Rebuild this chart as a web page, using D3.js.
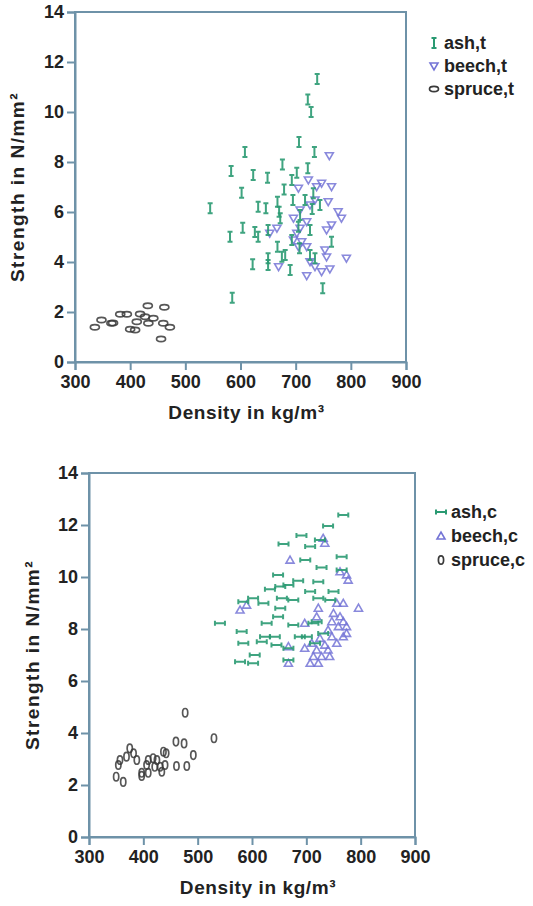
<!DOCTYPE html>
<html><head><meta charset="utf-8">
<script src="https://cdn.jsdelivr.net/npm/d3@7/dist/d3.min.js"></script>
<style>body{margin:0;background:#fff}svg{display:block}text{font-family:"Liberation Sans",Arial,sans-serif;font-weight:bold;fill:#222}</style>
</head><body><svg id="c" width="533" height="906"></svg>
<script>
// ---------- data: tension (top) ----------
const ashT = [[739,11.32],[722,10.5],[728,10.0],[706,8.8],[608,8.4],[734,8.4],[676,7.9],[583,7.64],[623,7.48],[649,7.37],[702,7.57],[722,7.75],[602,6.77],[679,6.9],[693,7.28],[695,6.48],[732,6.75],[545,6.15],[632,6.21],[646,6.15],[667,6.41],[670,6.01],[672,5.75],[730,6.12],[604,5.37],[650,5.28],[632,5.01],[581,5.01],[705,5.41],[765,4.81],[667,4.61],[707,4.55],[675,4.21],[650,4.15],[650,3.88],[622,3.91],[726,4.28],[735,4.15],[690,3.68],[749,2.95],[585,2.57],[708,5.88],[717,6.48],[693,4.88],[726,5.28],[744,6.28],[681,4.28],[626,5.2]];
const beechT = [[761,8.25],[723,7.28],[747,7.15],[765,7.01],[738,7.01],[705,6.95],[759,6.41],[708,6.08],[735,6.48],[777,6.01],[783,5.75],[765,5.48],[756,5.28],[708,5.35],[720,5.61],[702,5.15],[666,5.35],[653,5.15],[696,4.88],[711,4.81],[720,4.61],[705,4.61],[753,4.48],[726,4.01],[792,4.15],[669,3.81],[735,3.81],[747,3.61],[762,3.72],[720,3.45],[756,4.2],[696,5.75],[726,6.28]];
const spruceT = [[432,2.25],[462,2.19],[382,1.91],[394,1.91],[418,1.92],[427,1.81],[348,1.68],[366,1.55],[336,1.39],[412,1.61],[433,1.55],[400,1.31],[460,1.55],[472,1.39],[456,0.92],[409,1.28],[442,1.75],[369,1.56]];
// ---------- data: compression (bottom) ----------
const ashC = [[768,12.38],[740,11.96],[691,11.6],[658,11.27],[707,11.17],[725,11.42],[765,10.78],[698,10.65],[728,10.37],[648,10.08],[765,10.27],[685,9.86],[667,9.69],[652,9.63],[633,9.53],[722,9.82],[707,9.44],[750,9.44],[602,9.18],[621,8.99],[655,9.18],[676,9.12],[722,9.18],[652,8.8],[584,9.05],[648,8.47],[627,8.22],[676,8.15],[541,8.22],[581,7.9],[624,7.7],[642,7.7],[688,7.7],[584,7.45],[618,7.51],[645,7.38],[667,7.26],[605,7.0],[578,6.74],[602,6.68],[667,6.81],[731,7.83],[719,8.28],[744,9.12],[713,8.22],[701,7.7],[716,7.45]];
const beechC = [[731,11.49],[734,11.3],[670,10.65],[762,10.2],[774,10.08],[777,9.88],[578,8.73],[590,8.92],[796,8.8],[768,8.99],[756,8.99],[722,8.8],[719,8.47],[747,8.28],[768,8.28],[759,8.09],[774,8.09],[740,7.96],[697,8.22],[747,7.7],[768,7.7],[725,7.64],[710,7.45],[734,7.38],[756,7.45],[667,7.32],[697,7.26],[719,7.19],[740,7.19],[713,6.94],[728,6.94],[743,6.94],[707,6.68],[722,6.68],[667,6.68],[774,7.83],[762,8.47],[750,8.6]];
const spruceC = [[477,4.78],[530,3.8],[460,3.67],[475,3.6],[375,3.41],[437,3.28],[442,3.22],[492,3.15],[382,3.22],[357,2.96],[388,2.96],[409,2.96],[418,3.03],[406,2.77],[354,2.77],[461,2.73],[480,2.73],[431,2.7],[434,2.51],[397,2.47],[409,2.47],[397,2.35],[350,2.32],[363,2.12],[421,2.7],[369,3.09],[440,2.77],[425,2.96]];
const xTicks = [300,400,500,600,700,800,900];
const yTicks = [0,2,4,6,8,10,12,14];
const xDomain = [300,900], yDomain = [0,14];
const xTitle = "Density in kg/m³", yTitle = "Strength in N/mm²";
const legendT = ["ash,t","beech,t","spruce,t"];
const legendC = ["ash,c","beech,c","spruce,c"];

const AXIS = "#6e92a8";
const COL = {ash:"#2a9a72", beech:"#7474d6", spruce:"#3a3a3a"};
const svg = d3.select("#c");

const shapes = {
  ashT: "M0,-5V5M-2.5,-5H2.5M-2.5,5H2.5",
  ashC: "M-5,0H5M-5,-2.5V2.5M5,-2.5V2.5",
  beechT: "M-4,-3L4,-3L0,4Z",
  beechC: "M-4,3L4,3L0,-4Z",
};

function panel(cfg){
  const g = svg.append("g");
  const x = d3.scaleLinear().domain(xDomain).range([cfg.x0,cfg.x1]);
  const y = d3.scaleLinear().domain(yDomain).range([cfg.y0,cfg.y1]);
  g.append("rect").attr("x",cfg.x0).attr("y",cfg.y1).attr("width",cfg.x1-cfg.x0).attr("height",cfg.y0-cfg.y1)
    .attr("fill","none").attr("stroke",AXIS).attr("stroke-width",2);
  const xa = g.append("g").attr("transform",`translate(0,${cfg.y0})`).call(d3.axisBottom(x).tickValues(xTicks).tickSize(8).tickPadding(5));
  const ya = g.append("g").attr("transform",`translate(${cfg.x0},0)`).call(d3.axisLeft(y).tickValues(yTicks).tickSize(8).tickPadding(3));
  [xa,ya].forEach(a=>{a.select(".domain").attr("stroke",AXIS).attr("stroke-width",2);
    a.selectAll(".tick line").attr("stroke",AXIS).attr("stroke-width",2);
    a.selectAll("text").attr("font-size",18).attr("font-family","Liberation Sans, Arial").attr("font-weight","bold").attr("fill","#222");});
  g.append("text").attr("x",(cfg.x0+cfg.x1)/2+6).attr("y",cfg.y0+57).attr("text-anchor","middle").attr("font-size",19).attr("letter-spacing",0.6).text(xTitle);
  g.append("text").attr("transform",`translate(${cfg.yt},${(cfg.y0+cfg.y1)/2}) rotate(-90)`).attr("text-anchor","middle").attr("font-size",19).attr("letter-spacing",1.5).text(yTitle);
  const pts = g.append("g");
  pts.selectAll(".sp").data(cfg.spruce).join("ellipse").attr("cx",d=>x(d[0])).attr("cy",d=>y(d[1]))
    .attr("rx",cfg.sprx).attr("ry",cfg.spry).attr("fill","none").attr("stroke",COL.spruce).attr("stroke-width",1.7).attr("opacity",0.85);
  pts.selectAll(".be").data(cfg.beech).join("path").attr("d",cfg.beechShape).attr("transform",d=>`translate(${x(d[0])},${y(d[1])})`)
    .attr("fill","none").attr("stroke",COL.beech).attr("stroke-width",1.6).attr("opacity",0.85);
  pts.selectAll(".as").data(cfg.ash).join("path").attr("d",cfg.ashShape).attr("transform",d=>`translate(${x(d[0])},${y(d[1])})`)
    .attr("fill","none").attr("stroke",COL.ash).attr("stroke-width",2).attr("opacity",0.9);
  const lg = g.append("g");
  cfg.legend.forEach((name,i)=>{
    const ly = cfg.ly + i*cfg.lstep, lx = cfg.lx;
    if(i===0) lg.append("path").attr("d",cfg.ashShape).attr("transform",`translate(${lx},${ly})`).attr("fill","none").attr("stroke",COL.ash).attr("stroke-width",2);
    if(i===1) lg.append("path").attr("d",cfg.beechShape).attr("transform",`translate(${lx},${ly})`).attr("fill","none").attr("stroke",COL.beech).attr("stroke-width",1.6);
    if(i===2) lg.append("ellipse").attr("cx",lx).attr("cy",ly).attr("rx",cfg.sprx).attr("ry",cfg.spry).attr("fill","none").attr("stroke",COL.spruce).attr("stroke-width",1.7);
    lg.append("text").attr("x",lx+10).attr("y",ly+6).attr("font-size",18).text(name);
  });
}

panel({x0:75,x1:406,y0:362,y1:12,yt:24,ash:ashT,beech:beechT,spruce:spruceT,ashShape:shapes.ashT,beechShape:shapes.beechT,sprx:4.5,spry:2.6,legend:legendT,lx:434,ly:43,lstep:23});
panel({x0:89,x1:415,y0:837,y1:473,yt:39,ash:ashC,beech:beechC,spruce:spruceC,ashShape:shapes.ashC,beechShape:shapes.beechC,sprx:2.6,spry:4.2,legend:legendC,lx:441,ly:512,lstep:24});
</script></body></html>
